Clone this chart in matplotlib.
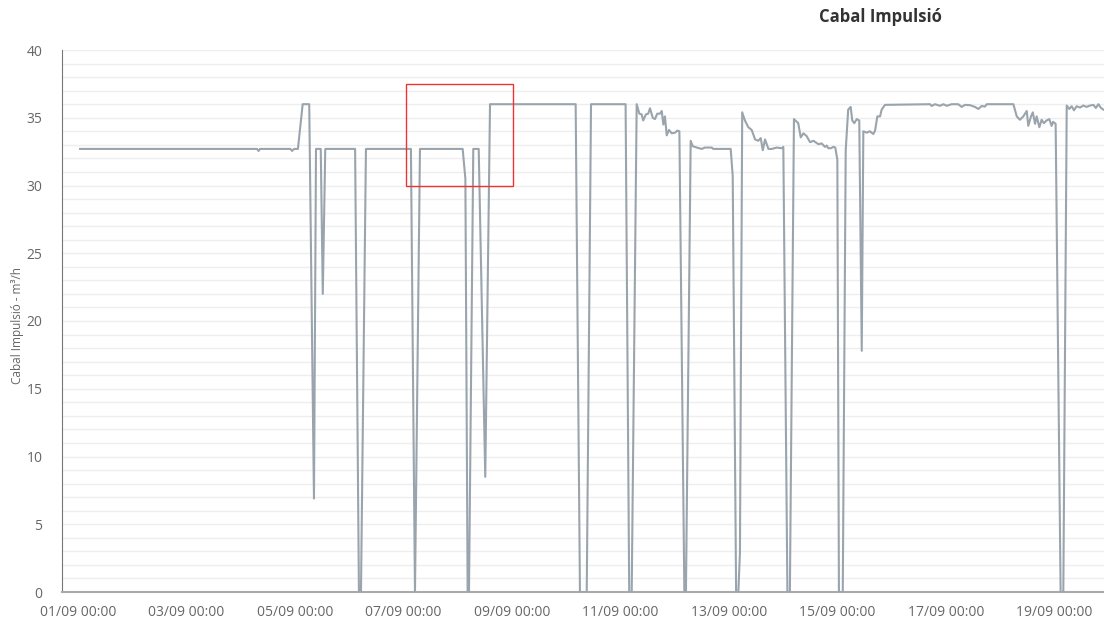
import matplotlib
matplotlib.use("Agg")
import matplotlib.pyplot as plt
import matplotlib.dates as mdates
from matplotlib.patches import Rectangle
import pandas as pd

# hours since 01/09 00:00 and flow (m3/h)
hours = [0.9, 79.2, 79.9, 80.5, 94.0, 94.7, 95.6, 97.3, 99.4, 102.3,
         104.4, 105.3, 107.4, 108.3, 109.4, 122.6, 124.3, 125.2, 127.4, 147.3,
         149.1, 151.3, 170.2, 171.4, 172.4, 173.0, 174.9, 177.3, 180.2, 182.3,
         220.2, 222.1, 225.1, 227.0, 242.3, 243.9, 245.0, 247.2,
         248.4, 249.4, 250.1, 251.3, 252.3, 253.1, 254.3, 255.3, 256.3, 257.5,
         258.3, 259.0, 259.7, 260.5, 261.5, 262.7, 264.2, 265.2, 266.1,
         268.3, 269.0, 271.1, 272.0, 273.8, 276.0, 277.4, 280.4, 281.1, 288.8,
         289.7, 291.2, 292.2, 292.9, 293.9,
         295.1, 296.6, 298.1, 299.6, 301.0, 302.1, 303.0, 304.0, 305.5, 307.0,
         309.2, 311.4, 312.1, 313.9, 315.0,
         316.8, 318.7, 319.8, 321.0, 322.4, 323.9, 325.4, 327.6, 329.1, 330.5,
         331.3, 332.0, 333.2, 334.2, 335.1, 336.0, 336.7, 338.4,
         339.7, 340.8, 341.9, 342.6, 343.5, 344.6, 345.7, 346.8, 347.5, 349.0,
         350.4, 351.9, 352.7, 353.7, 354.9, 355.6, 357.1,
         377.0, 377.7, 379.2, 381.4, 382.9, 384.4, 386.6, 389.5, 391.0, 392.5,
         394.7, 396.9, 398.4, 399.9, 401.3, 402.1, 413.9,
         415.4, 416.8, 418.3, 419.8, 420.5, 421.6, 422.5, 423.5, 424.2, 425.4,
         426.4, 427.4, 428.6, 429.8, 430.8, 431.5, 432.6,
         434.8, 436.0, 437.5, 438.6, 439.7, 440.7, 441.9, 443.4, 444.8, 446.3,
         447.8, 449.3, 450.4, 451.5, 452.7, 453.7]
flow = [32.7, 32.7, 32.55, 32.7, 32.7, 32.55, 32.7, 32.7, 36.0, 36.0,
        6.9, 32.7, 32.7, 22.0, 32.7, 32.7, 0, 0, 32.7, 32.7,
        0, 32.7, 32.7, 30.5, 0, 0, 32.7, 32.7, 8.5, 36.0,
        36.0, 0, 0, 36.0, 36.0, 0, 0, 36.0,
        35.3, 35.25, 34.8, 35.25, 35.3, 35.7, 35.0, 34.9, 35.3, 35.3,
        35.5, 34.5, 35.1, 33.7, 34.1, 33.85, 33.9, 34.05, 34.0,
        0, 0, 33.3, 32.9, 32.8, 32.7, 32.8, 32.8, 32.7, 32.7,
        30.7, 0, 0, 2.9, 35.4,
        34.8, 34.3, 34.1, 33.4, 33.3, 33.5, 32.6, 33.4, 32.7, 32.7,
        32.8, 32.75, 32.85, 0, 0,
        34.9, 34.6, 33.55, 33.85, 33.65, 33.2, 33.3, 33.05, 33.1, 32.85,
        32.95, 32.75, 32.75, 32.85, 32.8, 31.9, 0, 0,
        32.6, 35.6, 35.8, 34.8, 34.6, 34.9, 34.8, 17.8, 34.0, 33.9,
        34.0, 33.8, 34.05, 35.1, 35.1, 35.6, 35.95,
        36.0, 35.87, 36.0, 35.88, 36.0, 35.88, 36.0, 36.0, 35.8, 35.95,
        35.93, 35.8, 35.65, 35.87, 35.82, 36.0, 36.0,
        35.1, 34.85, 35.1, 35.5, 34.4, 35.05, 35.4, 34.55, 35.1, 34.3,
        34.85, 34.6, 34.8, 34.9, 34.4, 34.7, 34.55,
        0, 0, 35.9, 35.65, 35.85, 35.55, 35.85, 35.75, 35.9, 35.8,
        35.9, 35.95, 35.72, 36.0, 35.72, 35.6]

# highlighted window (red box)
box_hours = (145.1, 192.5)
box_flow = (30.0, 37.5)

start = pd.Timestamp("2023-09-01 00:00")
times = start + pd.to_timedelta(hours, unit="h")

plt.rcParams['font.family'] = ['Open Sans', 'DejaVu Sans']

fig = plt.figure(figsize=(11.04, 6.24), dpi=100)
ax = fig.add_axes([62 / 1104, 32 / 624, 1 - 62 / 1104, 542 / 624])

ax.plot(times, flow, color='#9aa4ad', linewidth=1.5, zorder=3)

b0 = mdates.date2num(start + pd.Timedelta(hours=box_hours[0]))
b1 = mdates.date2num(start + pd.Timedelta(hours=box_hours[1]))
ax.add_patch(Rectangle((b0, box_flow[0]), b1 - b0, box_flow[1] - box_flow[0],
                       fill=False, edgecolor='#ee3333', linewidth=1, zorder=4))

ax.set_ylim(0, 40)
ax.set_xlim(start - pd.Timedelta(hours=7.1), start + pd.Timedelta(hours=454))
ax.set_yticks(range(0, 41, 5))
ax.set_yticks(range(0, 41, 1), minor=True)
ax.grid(True, which='both', axis='y', color='#eeeeee', linewidth=1, zorder=0)

ax.xaxis.set_major_locator(mdates.DayLocator(interval=2))
ax.xaxis.set_major_formatter(mdates.DateFormatter('%d/%m %H:%M'))

for s in ['top', 'right']:
    ax.spines[s].set_visible(False)
ax.spines['left'].set_color('#777777')
ax.spines['bottom'].set_color('#aaaaaa')
ax.spines['bottom'].set_linewidth(1.5)
ax.tick_params(axis='both', which='both', length=0, labelsize=10, labelcolor='#666666')
ax.tick_params(axis='y', pad=14)
ax.tick_params(axis='x', pad=9)

fig.text(18 / 1104, 1 - 325 / 624, 'Cabal Impulsió - m³/h', rotation=90,
         ha='center', va='center', fontsize=8.5, color='#666666')
fig.text(880 / 1104, 1 - 17 / 624, 'Cabal Impulsió', ha='center', va='center',
         fontsize=12, fontweight='bold', color='#333333')

fig.savefig('out.png', dpi=100)
